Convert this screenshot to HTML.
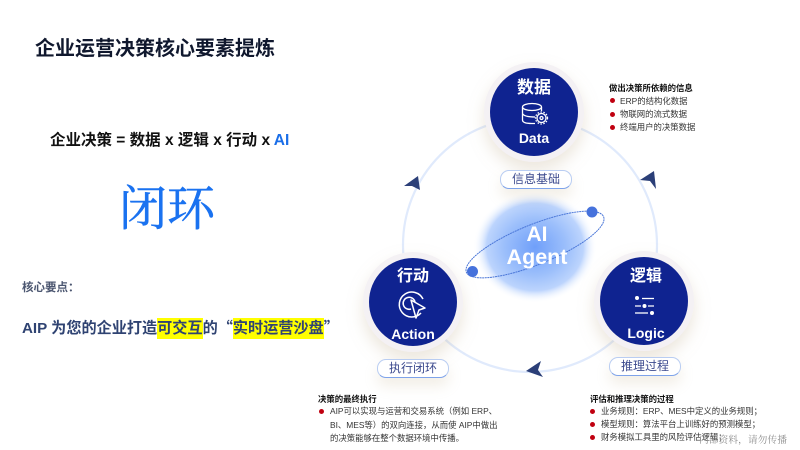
<!DOCTYPE html>
<html lang="zh">
<head>
<meta charset="utf-8">
<style>
html,body{margin:0;padding:0;background:#fff}
#p{position:relative;width:800px;height:450px;overflow:hidden;background:#fff;font-family:"Liberation Sans","Noto Sans CJK SC",sans-serif}
.t{position:absolute;white-space:nowrap;line-height:1}
.s{font-size:8.4px;color:#333;line-height:13px}
.h{font-size:8.4px;font-weight:700;color:#111}
.d{position:absolute;width:5px;height:5px;border-radius:50%;background:#c00010}
.c{font-weight:700;color:#fff;text-align:center;transform:translateX(-50%)}
.pill{position:absolute;width:70px;height:17px;line-height:17px;border-radius:9px;background:#fff;border:1px solid #b9cdf2;border-bottom:1.5px solid #7ea3ea;text-align:center;font-size:12px;color:#3c4a8e;box-shadow:0 8px 14px rgba(190,170,130,.2)}
mark{background:#ffff00;color:inherit;display:inline-block;line-height:21px}
.q{font-family:"Noto Sans CJK SC",sans-serif}
</style>
</head>
<body>
<div id="p">
<svg width="800" height="450" style="position:absolute;left:0;top:0">
<defs>
<radialGradient id="b" cx="50%" cy="50%" r="50%">
<stop offset="0" stop-color="#6f9ffa"/>
<stop offset=".5" stop-color="#9cbffb"/>
<stop offset=".78" stop-color="#bcd4fd"/>
<stop offset="1" stop-color="#fff" stop-opacity="0"/>
</radialGradient>
<filter id="sh" x="-30%" y="-30%" width="160%" height="170%">
<feDropShadow dx="0" dy="8" stdDeviation="8" flood-color="#b9a684" flood-opacity=".28"/>
</filter>
</defs>
<circle cx="530" cy="245" r="127" fill="none" stroke="#e0eafc" stroke-width="2.2"/>
<ellipse cx="535" cy="247" rx="62" ry="56" fill="url(#b)"/>
<ellipse cx="535" cy="244.500" rx="74" ry="20" transform="rotate(-22 535 244.500)" fill="none" stroke="#4a76d8" stroke-width="1" stroke-dasharray="2 .6"/>
<circle cx="592" cy="212" r="5.500" fill="#4672dc"/>
<circle cx="472.500" cy="271.500" r="5.500" fill="#4672dc"/>
<path d="M640 180 L654 171 L656 189 L650 181 Z" fill="#2b3f78"/>
<path d="M404 186 L418 176 L420 190 L412 186 Z" fill="#2b3f78"/>
<path d="M526 371 L541 361 L538 370 L543 377 Z" fill="#2b3f78"/>
<g filter="url(#sh)">
<circle cx="534" cy="112" r="50" fill="#f4f1f4"/>
<circle cx="413" cy="302" r="50" fill="#f4f1f4"/>
<circle cx="644" cy="301" r="50" fill="#f4f1f4"/>
</g>
<circle cx="534" cy="112" r="44" fill="#0f2390"/>
<circle cx="413" cy="302" r="44" fill="#0f2390"/>
<circle cx="644" cy="301" r="44" fill="#0f2390"/>
<g fill="none" stroke="#fff" stroke-width="1.300">
<ellipse cx="532" cy="107" rx="9.500" ry="3.500"/>
<path d="M522.500 107V120Q522.500 123.500 532 123.500H535M522.500 113.500Q524 117 535 117M541.500 107V111"/>
<circle cx="541.500" cy="118" r="4.500"/>
<circle cx="541.500" cy="118" r="1.500"/>
<circle cx="541.500" cy="118" r="6" stroke-dasharray="1.500 1.500"/>
</g>
<g fill="none" stroke="#fff" stroke-width="1.500">
<path d="M421 313A12.500 12.500 0 1 1 423 299"/>
<path d="M415 302A6 6 0 1 0 411 309"/>
<path d="M411 300L425 308L419 310L416 318Z" stroke-linejoin="round" fill="#0f2390"/>
</g>
<g stroke="#fff" stroke-width="1.300" fill="#fff">
<circle cx="637" cy="298" r="2" stroke="none"/><path d="M642 298.500H654"/>
<path d="M635 306H641M648 306H654"/><circle cx="644.500" cy="306" r="2" stroke="none"/>
<path d="M635 313H648"/><circle cx="652" cy="313" r="2" stroke="none"/>
</g>
</svg>

<div class="t" style="left:35px;top:39px;font-size:20px;font-weight:700;color:#10182e">企业运营决策核心要素提炼</div>
<div class="t" style="left:50px;top:133px;font-size:15.500px;font-weight:700;color:#111">企业决策 = 数据 x 逻辑 x 行动 x <span style="color:#1a6ee8">AI</span></div>
<div class="t" style="left:119px;top:181px;font-size:48px;color:#1a72f0;font-family:'Noto Serif CJK SC',serif;font-weight:400;-webkit-text-stroke:.5px #1a72f0">闭环</div>
<div class="t" style="left:22px;top:283px;font-size:11.500px;font-weight:700;color:#4b5670">核心要点：</div>
<div class="t" style="left:22px;top:317px;font-size:15.150px;font-weight:700;color:#2f4372;line-height:21px">AIP 为您的企业打造<mark>可交互</mark>的<span class="q">“</span><mark>实时运营沙盘</mark><span class="q">”</span></div>

<div class="t c" style="left:534px;top:79px;font-size:17px">数据</div>
<div class="t c" style="left:534px;top:131px;font-size:14px">Data</div>
<div class="t c" style="left:413px;top:269px;font-size:16px">行动</div>
<div class="t c" style="left:413px;top:327px;font-size:14px">Action</div>
<div class="t c" style="left:646px;top:269px;font-size:16px">逻辑</div>
<div class="t c" style="left:646px;top:326px;font-size:14px">Logic</div>
<div class="t c" style="left:537px;top:224px;font-size:21px">AI</div>
<div class="t c" style="left:537px;top:247px;font-size:21.500px">Agent</div>

<div class="pill" style="left:500px;top:170px">信息基础</div>
<div class="pill" style="left:377px;top:359px">执行闭环</div>
<div class="pill" style="left:609px;top:357px">推理过程</div>

<div class="t h" style="left:609px;top:84px">做出决策所依赖的信息</div>
<i class="d" style="left:610px;top:98px"></i><div class="t s" style="left:620px;top:94.500px">ERP的结构化数据</div>
<i class="d" style="left:610px;top:112px"></i><div class="t s" style="left:620px;top:108px">物联网的流式数据</div>
<i class="d" style="left:610px;top:125px"></i><div class="t s" style="left:620px;top:121px">终端用户的决策数据</div>

<div class="t h" style="left:318px;top:395px">决策的最终执行</div>
<i class="d" style="left:319px;top:409px"></i>
<div class="t s" style="left:330px;top:405px">AIP可以实现与运营和交易系统（例如 ERP、</div>
<div class="t s" style="left:330px;top:419px">BI、MES等）的双向连接，从而使 AIP中做出</div>
<div class="t s" style="left:330px;top:432px">的决策能够在整个数据环境中传播。</div>

<div class="t h" style="left:590px;top:395px">评估和推理决策的过程</div>
<i class="d" style="left:590px;top:409px"></i><div class="t s" style="left:601px;top:405px">业务规则：ERP、MES中定义的业务规则；</div>
<i class="d" style="left:590px;top:422px"></i><div class="t s" style="left:601px;top:418px">模型规则：算法平台上训练好的预测模型；</div>
<i class="d" style="left:590px;top:435px"></i><div class="t s" style="left:601px;top:431px">财务模拟工具里的风险评估逻辑；</div>
<div class="t" style="left:699px;top:436px;font-size:9.600px;letter-spacing:.2px;color:#8c8c8c;font-family:'Liberation Serif','Noto Serif CJK SC',serif">内部资料，请勿传播</div>
</div>
</body>
</html>
